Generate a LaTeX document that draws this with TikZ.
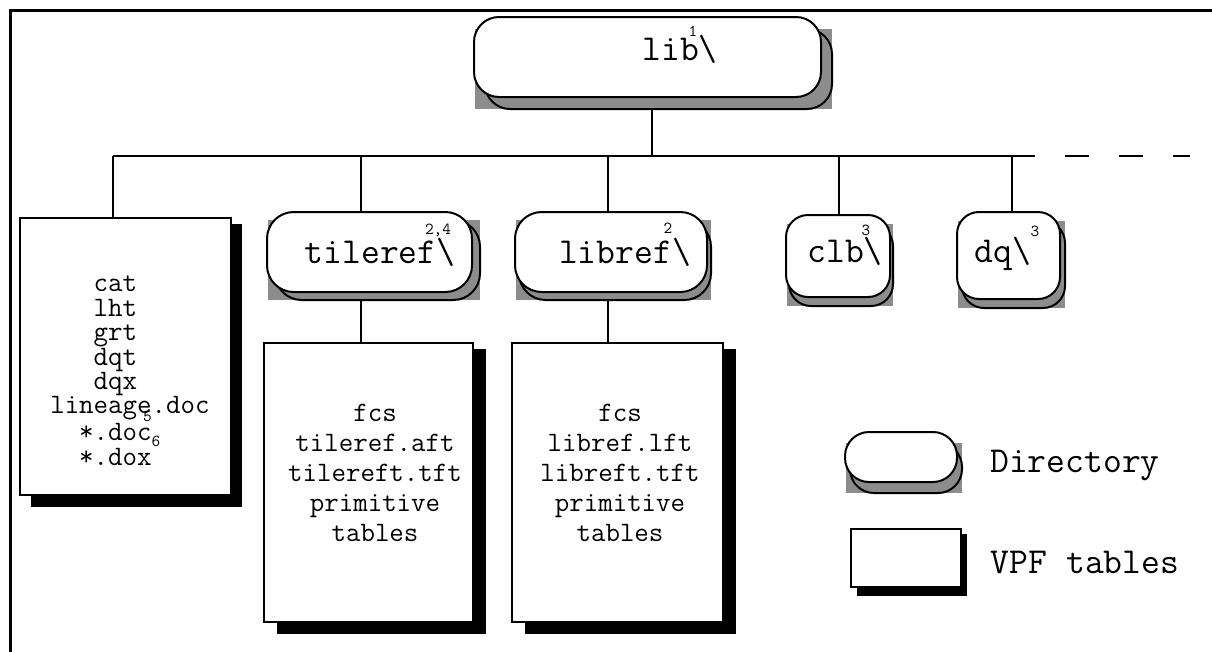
\documentclass[tikz,border=0pt]{standalone}
\usetikzlibrary{fit,backgrounds}

\tikzset{
  ln/.style={line width=1.5pt},
  dirbox/.style={draw, line width=1.5pt, fill=white, inner sep=0pt},
  tblbox/.style={draw, line width=1.5pt, fill=white, inner sep=0pt},
  big/.style={font=\ttfamily\fontsize{27.4}{30}\selectfont, inner sep=0pt},
  lst/.style={font=\ttfamily\fontsize{21.1}{22.5}\selectfont, inner sep=0pt, align=center},
  lstleft/.style={font=\ttfamily\fontsize{21.1}{18.3}\selectfont, inner sep=0pt, align=left},
  supnum/.style={font=\ttfamily\fontsize{12.6}{14}\selectfont, inner sep=0pt},
  shadowgray/.style={fill=black!45},
}

% name, x1, y1, x2, y2, radius, sx, sy
\newcommand\mydir[8]{%
  \fill[shadowgray] ({#2+1},{#3+#8}) rectangle ({#4+#7},{#5+#8});
  \draw[line width=1.5pt, rounded corners=#6] ({#2+#7},{#3+#8}) rectangle ({#4+#7},{#5+#8});
  \node (#1) [dirbox, rounded corners=#6, fit={(#2,#3) (#4,#5)}] {};
}
% name, x1, y1, x2, y2, sx, sy
\newcommand\myvpf[7]{%
  \fill ({#2+#6},{#3+#7*0.5}) rectangle ({#4+#6},{#5+#7});
  \node (#1) [tblbox, fit={(#2,#3) (#4,#5)}] {};
}

\begin{document}
\begin{tikzpicture}[x=0.75pt,y=-0.75pt]
\useasboundingbox (0,0) rectangle (1212,651);

% frame
\draw[line width=2.25pt] (1215,10.5) -- (10.5,10.5) -- (10.5,655);

% directories
\mydir{lib}{474}{17}{821}{97}{18.75pt}{11}{12}
\mydir{tile}{267}{212}{472}{292}{20pt}{8}{8}
\mydir{libr}{515}{212}{707}{292}{20pt}{4}{8}
\mydir{clb}{786}{215}{890}{297}{16.5pt}{3}{9}
\mydir{dq}{957}{212}{1060}{299}{16.5pt}{5}{9}
\mydir{legdir}{845}{432}{957}{482}{18pt}{5}{11}

% VPF table boxes
\myvpf{cat}{20}{218}{231}{495}{11}{12}
\myvpf{tiletbl}{264}{343}{473}{622}{13}{12}
\myvpf{libtbl}{512}{343}{723}{622}{13}{12}
\myvpf{legvpf}{851}{529}{961}{587}{6}{9}

% directory labels
\node (tlib) [big, anchor=base] at (680,60) {lib\textbackslash};
\node (slib) [supnum] at (693,31) {1};
\node (ttile) [big, anchor=base] at (380,263) {tileref\textbackslash};
\node (stile) [supnum] at (438,230) {2,4};
\node (tlibr) [big, anchor=base] at (625,263) {libref\textbackslash};
\node (slibr) [supnum] at (668,228) {2};
\node (tclb) [big, anchor=base] at (845,262) {clb\textbackslash};
\node (sclb) [supnum] at (866,230) {3};
\node (tdq) [big, anchor=base] at (1003,262) {dq\textbackslash};
\node (sdq) [supnum] at (1035,231) {3};

% table contents
\node (lcat) [lstleft, anchor=west] at (50,370) {%
\phantom{000}cat\\
\phantom{000}lht\\
\phantom{000}grt\\
\phantom{000}dqt\\
\phantom{000}dqx\\
lineage\llap{\raisebox{-6pt}{\fontsize{12.6}{14}\selectfont 5}}.doc\\
\phantom{00}*.doc\rlap{\raisebox{-4pt}{\fontsize{12.6}{14}\selectfont 6}}\\
\phantom{00}*.dox};
\node (ltile) [lst] at (375,473) {fcs\\tileref.aft\\tilereft.tft\\primitive\\tables};
\node (llibr) [lst] at (620,473) {fcs\\libref.lft\\libreft.tft\\primitive\\tables};

% legend
\node (tdir) [big, anchor=base] at (1075,472) {Directory};
\node (tvpf) [big, anchor=base] at (1085,573) {VPF tables};

% connectors
\coordinate (busL) at (113,156);
\coordinate (b0) at (652,156);
\coordinate (b2) at (361,156);
\coordinate (b3) at (608,156);
\coordinate (b4) at (839,156);
\coordinate (b5) at (1012,156);
\coordinate (busR) at (1035,156);
\coordinate (busEnd) at (1190,156);
\begin{scope}[on background layer]
\draw[ln] (busL) -- (busR);
\draw[ln, dash pattern=on 18pt off 22.5pt, dash phase=18pt] (busR) -- (busEnd);
\draw[ln] (lib.south -| b0) -- (b0);
\draw[ln] (busL) -- (busL |- cat.north);
\draw[ln] (b2) -- (b2 |- tile.north);
\draw[ln] (b3) -- (b3 |- libr.north);
\draw[ln] (b4) -- (b4 |- clb.north);
\draw[ln] (b5) -- (b5 |- dq.north);
\draw[ln] (b2 |- tile.south) -- (b2 |- tiletbl.north);
\draw[ln] (b3 |- libr.south) -- (b3 |- libtbl.north);
\end{scope}
\end{tikzpicture}
\end{document}
